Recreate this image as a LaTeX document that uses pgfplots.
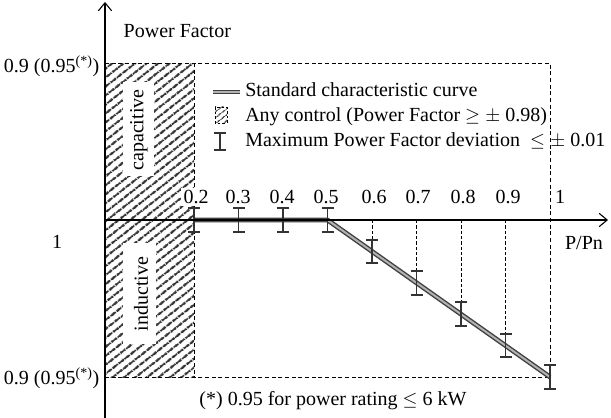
\documentclass[border=0pt]{standalone}
\usepackage{pgfplots}
\pgfplotsset{compat=1.18}
\usepackage{fontspec}
\setmainfont{LiberationSerif}[Extension=.ttf, UprightFont=*-Regular, BoldFont=*-Bold, ItalicFont=*-Italic, BoldItalicFont=*-BoldItalic]
\usetikzlibrary{patterns.meta, arrows.meta}

\begin{document}
\begin{tikzpicture}[font=\rmfamily\fontsize{15}{18}\selectfont]
\begin{axis}[scale only axis, width=458.25pt, height=313.5pt,
  xmin=-0.23596, xmax=1.13708, ymin=-0.12611, ymax=0.14013,
  hide axis, clip=false, unbounded coords=jump]
% hatched area (any control)
\addplot[draw=none, pattern={Lines[angle=38,distance=5.4pt,line width=1.7pt]}, pattern color=black!80]
  coordinates {(0,-0.1) (0,0.1) (0.2,0.1) (0.2,-0.1)} -- cycle;
% dashed frame
\addplot[black, line width=0.6pt, dash pattern=on 3pt off 2pt] coordinates {(0,0.1) (1,0.1) (1,-0.1) (0,-0.1)};
\addplot[black, line width=0.6pt, dash pattern=on 3pt off 2pt] coordinates {(0.2,0.1) (0.2,-0.1)};
% vertical dashed guides to error bars
\addplot[black, line width=0.5pt, dash pattern=on 2.5pt off 1.5pt] coordinates {(0.6,0) (0.6,-0.0125)};
\addplot[black, line width=0.5pt, dash pattern=on 2.5pt off 1.5pt] coordinates {(0.7,0) (0.7,-0.0325)};
\addplot[black, line width=0.5pt, dash pattern=on 2.5pt off 1.5pt] coordinates {(0.8,0) (0.8,-0.0525)};
\addplot[black, line width=0.5pt, dash pattern=on 2.5pt off 1.5pt] coordinates {(0.9,0) (0.9,-0.0725)};
% standard characteristic curve
\addplot[black!75, line width=3.6pt, line join=round] coordinates {(0.2,0) (0.3,0) (0.4,0) (0.5,0) (0.6,-0.02) (0.7,-0.04) (0.8,-0.06) (0.9,-0.08) (1,-0.1)};
\addplot[black!30, line width=1.5pt, line join=round] coordinates {(0.2,0) (0.3,0) (0.4,0) (0.5,0) (0.6,-0.02) (0.7,-0.04) (0.8,-0.06) (0.9,-0.08) (1,-0.1)};
% error bars (PF deviation)
\addplot[black!80, line width=1.4pt] coordinates {
 (0.2,0.0075) (0.2,-0.0075) (0.25,nan)
 (0.3,0.0075) (0.3,-0.0075) (0.35,nan)
 (0.4,0.0075) (0.4,-0.0075) (0.45,nan)
 (0.5,0.0075) (0.5,-0.0075) (0.55,nan)
 (0.6,-0.0125) (0.6,-0.0275) (0.65,nan)
 (0.7,-0.0325) (0.7,-0.0475) (0.75,nan)
 (0.8,-0.0525) (0.8,-0.0675) (0.85,nan)
 (0.9,-0.0725) (0.9,-0.0875) (0.95,nan)
 (1,-0.0925) (1,-0.1075)};
\addplot[black!80, only marks, mark=-, mark size=4.5pt, mark options={line width=1.5pt}] coordinates {
 (0.2,0.0075) (0.2,-0.0075) (0.3,0.0075) (0.3,-0.0075) (0.4,0.0075) (0.4,-0.0075)
 (0.5,0.0075) (0.5,-0.0075) (0.6,-0.0125) (0.6,-0.0275) (0.7,-0.0325) (0.7,-0.0475)
 (0.8,-0.0525) (0.8,-0.0675) (0.9,-0.0725) (0.9,-0.0875) (1,-0.0925) (1,-0.1075)};
\coordinate (TL) at (rel axis cs:0,1);
\end{axis}
\begin{scope}[shift={(TL)}, x=0.75pt, y=-0.75pt]
% axes
\draw[line width=0.8pt, -{Straight Barb[length=6pt,width=10pt,line width=0.8pt]}] (105,418) -- (105,2);
\draw[line width=0.8pt, -{Straight Barb[length=6pt,width=10pt,line width=0.8pt]}] (105,220) -- (608,220);
% white boxes and region labels
\fill[white] (123,82) rectangle (154,176);
\fill[white] (123,243) rectangle (156,344);
\node[rotate=90] at (139,130) {capacitive};
\node[rotate=90] at (141,294) {inductive};
% axis texts
\node[anchor=base west] at (119,38) {Power Factor};
\node[anchor=east] at (104,66) {0.9 (0.95\textsuperscript{(*)})};
\node[anchor=east] at (104,378) {0.9 (0.95\textsuperscript{(*)})};
\node at (57,242) {1};
\node[fill=white, inner sep=2pt] at (196,197) {0.2};
\node at (238,197) {0.3};
\node at (282,197) {0.4};
\node at (326,197) {0.5};
\node at (374,197) {0.6};
\node at (418,197) {0.7};
\node at (463,197) {0.8};
\node at (508,197) {0.9};
\node at (560,197) {1};
\node at (584,243) {P/Pn};
\node at (333,401) {(*) 0.95 for power rating $\leq$ 6 kW};
% legend
\draw[black!75, line width=3.6pt] (213,92) -- (240,92);
\draw[black!30, line width=1.5pt] (213,92) -- (240,92);
\fill[pattern={Lines[angle=38,distance=4pt,line width=1.1pt]}, pattern color=black!80] (215,107) rectangle (227,123);
\draw[black, line width=0.5pt, dash pattern=on 2pt off 1.5pt] (215,107) rectangle (227,123);
\draw[black!80, line width=1.4pt] (220,133) -- (220,150);
\draw[black!80, line width=1.4pt] (214,133) -- (226,133);
\draw[black!80, line width=1.4pt] (214,150) -- (226,150);
\node[anchor=base west, inner sep=0pt] at (245,97) {Standard characteristic curve};
\node[anchor=base west, inner sep=0pt] at (245,122) {Any control (Power Factor $\geq\pm$ 0.98)};
\node[anchor=base west, inner sep=0pt] at (245,147) {Maximum Power Factor deviation\ \ $\leq\pm$ 0.01};
\end{scope}
\pgfresetboundingbox
\path[use as bounding box] (TL) rectangle ++(458.25pt,-313.5pt);
\end{tikzpicture}
\end{document}
